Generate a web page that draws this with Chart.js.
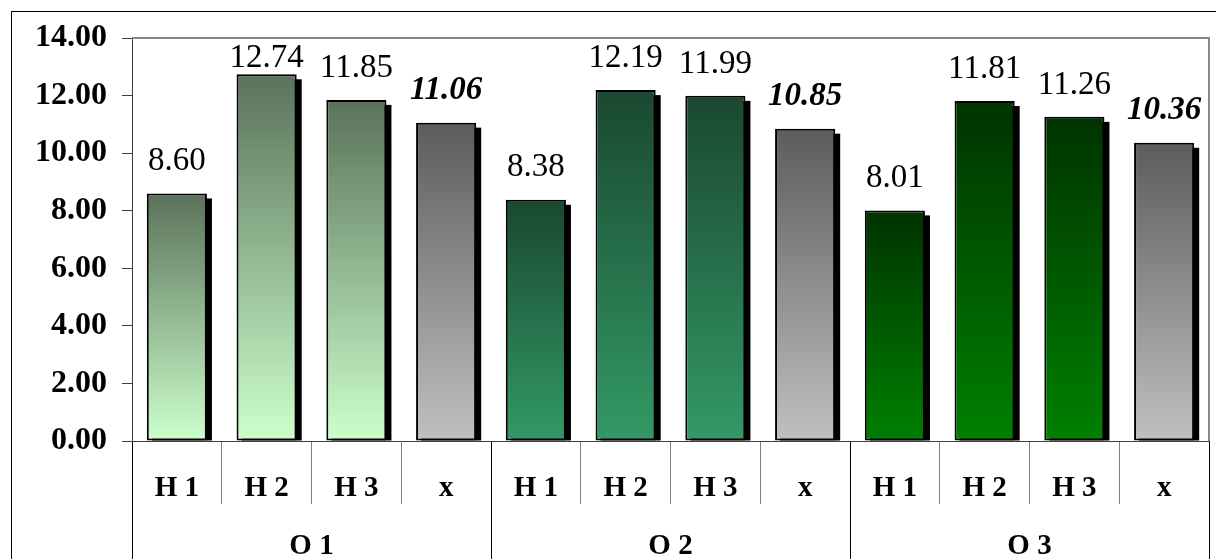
<!DOCTYPE html>
<html lang="es">
<head>
  <meta charset="UTF-8">
  <title>O / H</title>
  <script src="https://cdn.jsdelivr.net/npm/chart.js"></script>
  <style>
    body { margin: 0; background: #fff; }
    .wrap { position: relative; width: 1216px; height: 559px; overflow: hidden; background: #fff; }
    .frame { position: absolute; left: 11px; top: 11px; width: 1400px; height: 800px; border: 1px solid #000; }
    canvas { position: absolute; left: 0; top: 0; }
  </style>
</head>
<body>
  <div class="wrap">
    <div class="frame"></div>
    <canvas id="chart" width="1216" height="559"></canvas>
  </div>

  <script>
    // datos
    var groups = ["O 1", "O 2", "O 3"];
    var categories = ["H 1", "H 2", "H 3", "x", "H 1", "H 2", "H 3", "x", "H 1", "H 2", "H 3", "x"];
    var values = [8.60, 12.74, 11.85, 11.06, 8.38, 12.19, 11.99, 10.85, 8.01, 11.81, 11.26, 10.36];
    var yMin = 0, yMax = 14, yStep = 2;

    // colores del degradado (arriba, abajo) por grupo, y para la media
    var groupColors = [["#5a725a", "#ccffcc"], ["#1a4830", "#339966"], ["#003300", "#008000"]];
    var meanColors = ["#5c5c5c", "#c0c0c0"];
    var serif = '"Times New Roman", "Liberation Serif", serif';

    function isMean(i) { return i % 4 === 3; }

    function barFill(ctx) {
      var chart = ctx.chart;
      var i = ctx.dataIndex;
      var cols = isMean(i) ? meanColors : groupColors[Math.floor(i / 4)];
      if (!chart.chartArea || !chart.scales.y) return cols[1];
      var top = chart.scales.y.getPixelForValue(values[i]);
      var base = chart.scales.y.getPixelForValue(0);
      var g = chart.ctx.createLinearGradient(0, top, 0, base);
      g.addColorStop(0, cols[0]);
      g.addColorStop(1, cols[1]);
      return g;
    }

    // sombra negra detrás de cada barra
    var shadowPlugin = {
      id: "shadow",
      beforeDatasetsDraw: function (chart) {
        var c = chart.ctx, a = chart.chartArea;
        c.save();
        c.beginPath();
        c.rect(a.left, a.top, a.right - a.left, a.bottom - a.top);
        c.clip();
        c.fillStyle = "#000";
        chart.getDatasetMeta(0).data.forEach(function (bar) {
          var p = bar.getProps(["x", "y", "base", "width"], true);
          c.fillRect(p.x - p.width / 2 + 5, p.y + 5, p.width, p.base - p.y - 5);
        });
        c.restore();
      }
    };

    // etiquetas de valores sobre las barras + borde del área
    var labelPlugin = {
      id: "labels",
      afterDatasetsDraw: function (chart) {
        var c = chart.ctx, a = chart.chartArea;
        c.save();
        c.textAlign = "center";
        c.textBaseline = "middle";
        c.fillStyle = "#000";
        chart.getDatasetMeta(0).data.forEach(function (bar, i) {
          var p = bar.getProps(["x", "y"], true);
          c.font = isMean(i) ? "italic bold 33px " + serif : "33px " + serif;
          var y = Math.max(p.y - 32, a.top + 20);
          c.fillText(values[i].toFixed(2), p.x, y);
        });
        c.strokeStyle = "#888";
        c.lineWidth = 2;
        c.beginPath();
        c.moveTo(a.left, a.top);
        c.lineTo(a.right, a.top);
        c.lineTo(a.right, a.bottom);
        c.stroke();
        c.restore();
      }
    };

    var chart = new Chart(document.getElementById("chart").getContext("2d"), {
      type: "bar",
      data: {
        labels: categories,
        datasets: [{
          data: values,
          backgroundColor: barFill,
          borderColor: "#000",
          borderWidth: 2,
          borderSkipped: false,
          barPercentage: 0.67,
          categoryPercentage: 1
        }]
      },
      options: {
        responsive: false,
        animation: false,
        devicePixelRatio: 1,
        layout: { padding: { left: 10, top: 38, right: 7, bottom: 0 } },
        plugins: { legend: { display: false }, tooltip: { enabled: false } },
        scales: {
          y: {
            min: yMin,
            max: yMax,
            ticks: {
              stepSize: yStep,
              padding: 15,
              color: "#000",
              font: { family: serif, size: 32, weight: "bold" },
              callback: function (v) { return Number(v).toFixed(2); }
            },
            grid: { drawOnChartArea: false, tickLength: 10, color: "#404040" },
            border: { color: "#404040", width: 1 },
            afterFit: function (s) { s.width = 122; }
          },
          x: {
            weight: 0,
            ticks: {
              padding: -33,
              color: "#000",
              autoSkip: false,
              maxRotation: 0,
              font: { family: serif, size: 29, weight: "bold" }
            },
            grid: {
              offset: true,
              drawOnChartArea: false,
              tickLength: 63,
              color: function (ctx) {
                return (ctx.index === undefined || ctx.index % 4 === 0) ? "#000" : "#808080";
              }
            },
            border: { color: "#404040", width: 1 },
            afterFit: function (s) { s.height = 63; }
          },
          x2: {
            type: "category",
            position: "bottom",
            weight: 1,
            labels: groups,
            offset: true,
            ticks: {
              padding: -35,
              color: "#000",
              maxRotation: 0,
              font: { family: serif, size: 29, weight: "bold" }
            },
            grid: { offset: true, drawOnChartArea: false, tickLength: 60, color: "#000" },
            border: { display: false },
            afterFit: function (s) { s.height = 55; }
          }
        }
      },
      plugins: [shadowPlugin, labelPlugin]
    });
  </script>
</body>
</html>
